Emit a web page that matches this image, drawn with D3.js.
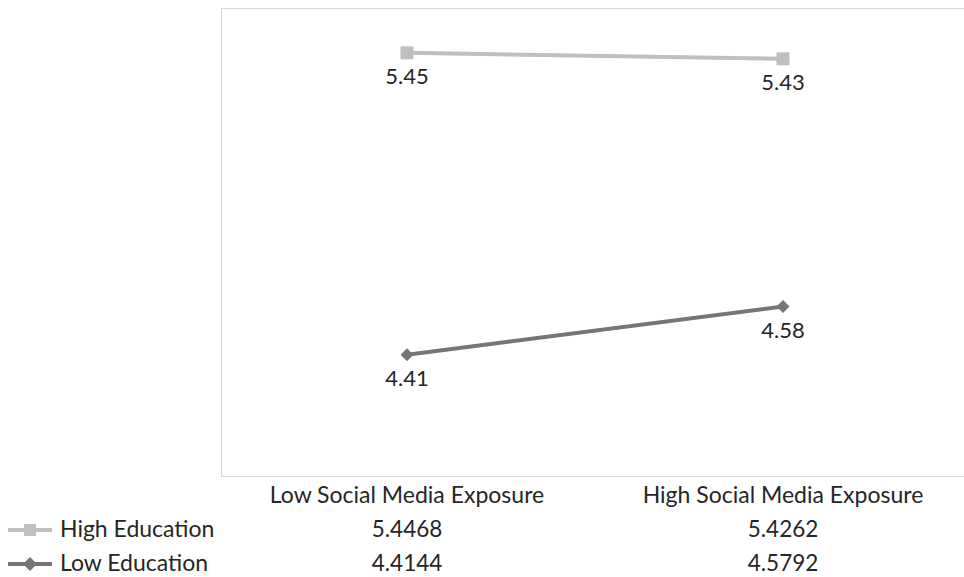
<!DOCTYPE html>
<html>
<head>
<meta charset="utf-8">
<script src="https://cdn.jsdelivr.net/npm/d3@7"></script>
<style>
  html, body { margin: 0; padding: 0; background: #fff; }
  svg { display: block; }
  text { font-family: Lato, "Open Sans", sans-serif; fill: #262626; }
</style>
</head>
<body>
<svg id="chart" width="964" height="577"></svg>
<script>
// Categories along the x axis
const categories = ["Low Social Media Exposure", "High Social Media Exposure"];
// Series names
const seriesNames = ["High Education", "Low Education"];
// Mean values per series
const highEducation = [5.4468, 5.4262];
const lowEducation = [4.4144, 4.5792];
// Y axis domain
const yDomain = [4.0, 5.6];

const series = [
  { name: seriesNames[0], values: highEducation, color: "#bfbfc1", marker: "square" },
  { name: seriesNames[1], values: lowEducation, color: "#76767a", marker: "diamond" }
];

const svg = d3.select("#chart");
const plot = { left: 221, right: 971, top: 8, bottom: 476 };

const x = d3.scaleBand().domain(categories).range([plot.left - 2, plot.right]);
const y = d3.scaleLinear().domain(yDomain).range([plot.bottom, plot.top]);
const cx = c => x(c) + x.bandwidth() / 2;

// Plot area border
svg.append("rect")
  .attr("x", plot.left + 0.5).attr("y", plot.top + 0.5)
  .attr("width", plot.right - plot.left).attr("height", plot.bottom - plot.top)
  .attr("fill", "none").attr("stroke", "#d9d9d9").attr("stroke-width", 1);

const line = d3.line().x(d => cx(d.c)).y(d => y(d.v));

// Marker outline centred on the origin; size is the full width
const markerPath = (type, size) => {
  const h = size / 2;
  const p = d3.path();
  if (type === "square") {
    p.rect(-h, -h, size, size);
  } else {
    p.moveTo(0, -h); p.lineTo(h, 0); p.lineTo(0, h); p.lineTo(-h, 0); p.closePath();
  }
  return p.toString();
};

series.forEach(s => {
  const pts = s.values.map((v, i) => ({ c: categories[i], v }));
  svg.append("path").datum(pts)
    .attr("d", line).attr("fill", "none")
    .attr("stroke", s.color).attr("stroke-width", 4);
  svg.selectAll(null).data(pts).enter().append("path")
    .attr("d", markerPath(s.marker, 13))
    .attr("transform", d => `translate(${cx(d.c)},${y(d.v)})`)
    .attr("fill", s.color);
  svg.selectAll(null).data(pts).enter().append("text")
    .attr("x", d => cx(d.c)).attr("y", d => y(d.v) + 31)
    .attr("text-anchor", "middle").attr("font-size", 22)
    .text(d => d.v.toFixed(2));
});

// Data table: header row
svg.selectAll(null).data(categories).enter().append("text")
  .attr("x", d => cx(d)).attr("y", 503)
  .attr("text-anchor", "middle").attr("font-size", 23)
  .text(d => d);

// Data table: one row per series with legend key
series.forEach((s, r) => {
  const rowY = 537 + r * 34;
  const keyY = rowY - 7;
  svg.append("line")
    .attr("x1", 8).attr("x2", 52).attr("y1", keyY).attr("y2", keyY)
    .attr("stroke", s.color).attr("stroke-width", 4);
  svg.append("path")
    .attr("d", markerPath(s.marker, s.marker === "square" ? 12 : 14))
    .attr("transform", `translate(30,${keyY})`)
    .attr("fill", s.color);
  svg.append("text")
    .attr("x", 60).attr("y", rowY).attr("font-size", 23)
    .text(s.name);
  svg.selectAll(null).data(s.values).enter().append("text")
    .attr("x", (d, i) => cx(categories[i])).attr("y", rowY)
    .attr("text-anchor", "middle").attr("font-size", 22.5)
    .text(d => d.toFixed(4));
});
</script>
</body>
</html>
